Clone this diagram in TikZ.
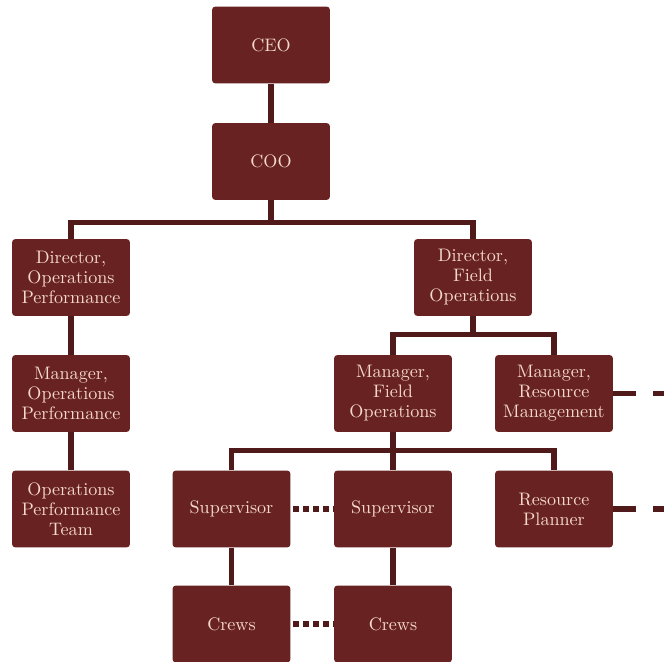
\documentclass[tikz,border=0pt]{standalone}
\usetikzlibrary{positioning}
\definecolor{boxc}{RGB}{104,34,33}
\definecolor{linec}{RGB}{80,26,26}
\definecolor{txtc}{RGB}{245,218,200}
\begin{document}
\begin{tikzpicture}[x=0.02cm,y=-0.02cm,
  orgbox/.style={rectangle, rounded corners=2pt, fill=boxc, draw=none,
    minimum width=2.36cm, minimum height=1.54cm, inner sep=0pt,
    text=txtc, align=center, font=\fontsize{10.3}{11.4}\selectfont},
  link/.style={draw=linec, line width=2.9pt},
  dotlink/.style={draw=linec, line width=3.2pt, dash pattern=on 0.12cm off 0.08cm, dash phase=-0.04cm},
  dashlink/.style={draw=linec, line width=2.9pt, dash pattern=on 0.46cm off 0.34cm}]
\useasboundingbox (0,0) rectangle (664,662);
\node[orgbox] (ceo) at (271,45) {CEO};
\node[orgbox] (coo) at (271,161.5) {COO};
\node[orgbox] (dop) at (71,277.5) {Director,\\Operations\\Performance};
\node[orgbox] (dfo) at (473,277.5) {Director,\\Field\\Operations};
\node[orgbox] (mop) at (71,393.5) {Manager,\\Operations\\Performance};
\node[orgbox] (mfo) at (393,393.5) {Manager,\\Field\\Operations};
\node[orgbox] (mrm) at (554,393.5) {Manager,\\Resource\\Management};
\node[orgbox] (opt) at (71,509) {Operations\\Performance\\Team};
\node[orgbox] (s1) at (231.5,509) {Supervisor};
\node[orgbox] (s2) at (393,509) {Supervisor};
\node[orgbox] (rp) at (554,509) {Resource\\Planner};
\node[orgbox] (c1) at (231.5,624) {Crews};
\node[orgbox] (c2) at (393,624) {Crews};
% coordinates for free ends
\coordinate (mrmend) at (664,393.5);
\coordinate (rpend) at (664,509);
% connectors
\draw[link] (ceo) -- (coo);
\draw[link] (coo.south) -- ++(0,22) coordinate (j1);
\draw[link] (dop.north) |- (j1) -| (dfo.north);
\draw[link] (dop) -- (mop);
\draw[link] (mop) -- (opt);
\draw[link] (dfo.south) -- ++(0,18.5) coordinate (j2);
\draw[link] (mfo.north) |- (j2) -| (mrm.north);
\draw[link] (mfo.south) -- ++(0,18) coordinate (j3);
\draw[link] (s1.north) |- (j3) -| (rp.north);
\draw[link] (j3) -- (s2.north);
\draw[link] (s1) -- (c1);
\draw[link] (s2) -- (c2);
\draw[dotlink] (s1) -- (s2);
\draw[dotlink] (c1) -- (c2);
\draw[dashlink] (mrm.east) -- (mrmend);
\draw[dashlink] (rp.east) -- (rpend);
\end{tikzpicture}
\end{document}
